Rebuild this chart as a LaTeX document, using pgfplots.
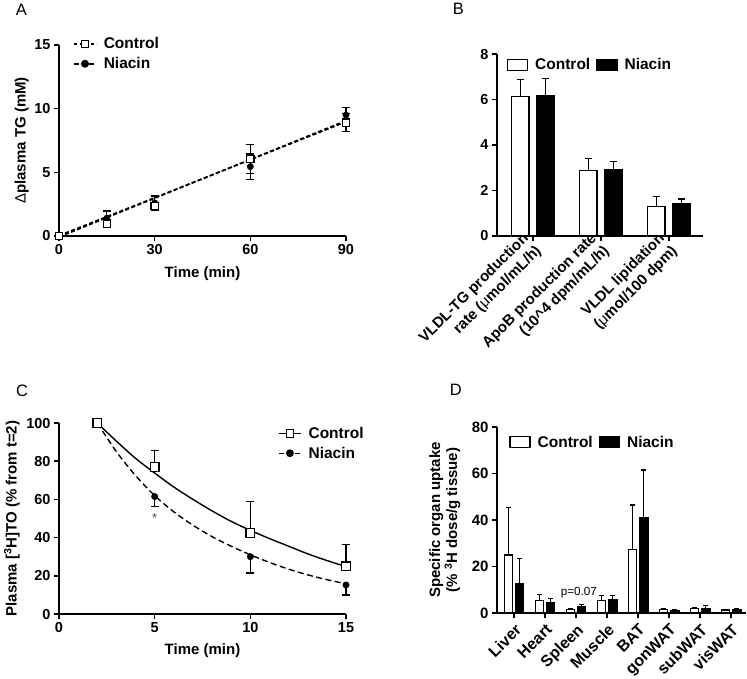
\documentclass[border=0pt]{standalone}
\usepackage{fontspec}
\setmainfont{Liberation Sans}
\usepackage{pgfplots}
\usepackage{pgfplotstable}
\pgfplotsset{compat=1.18}

\newcommand{\tickfont}{\fontsize{14.5}{16}\selectfont\bfseries}
\newcommand{\labfont}{\fontsize{15}{17}\selectfont\bfseries}
\newcommand{\legfont}{\fontsize{15.5}{18}\selectfont\bfseries}

\pgfplotsset{
  gp/.style={
    scale only axis, clip=false,
    axis lines=left,
    axis line style={-, line width=1.7pt},
    tick align=outside, major tick length=5pt,
    tick style={line width=1.5pt, black},
    tick label style={font=\tickfont},
    /pgf/number format/assume math mode=true,
    label style={font=\labfont},
    legend style={draw=none, fill=none, font=\legfont, inner sep=0pt,
      /tikz/every odd column/.append style={column sep=5pt}},
    legend cell align=left,
  },
  linelegend/.style={legend image code/.code={%
    \draw[mark repeat=2, mark phase=2, ##1] plot coordinates {(0pt,0pt) (11pt,0pt) (22pt,0pt)};}},
  wbox/.style={legend image code/.code={%
    \draw[fill=white, draw=black, line width=1.3pt] (0pt,-5.5pt) rectangle (20pt,5.5pt);}},
  bbox/.style={legend image code/.code={%
    \draw[fill=black, draw=black, line width=1.3pt] (0pt,-5.5pt) rectangle (20pt,5.5pt);}},
  errs/.style={error bars/.cd, y explicit, y dir=#1,
    error bar style={line width=1.3pt, solid, draw=black},
    error mark options={rotate=90, line width=1.3pt, mark size=4pt, solid, draw=black}},
  cap/.style={/pgfplots/error bars/error mark options={rotate=90, line width=1.3pt,
    mark size=#1, solid, draw=black}},
  ebar/.style={forget plot, draw=none, mark=none, errs=plus, /pgfplots/cap=#1},
}

% panel A: change in plasma TG
\pgfplotstableread{
t  c    ce   n    ne
0  0    0    0    0
15 0.95 0.3  1.4  0.56
30 2.35 0.2  2.6  0.55
60 6.05 1.15 5.45 1.0
90 8.9  0.7  9.5  0.6
}\tabA

% panel B: production rates
\pgfplotstableread{
x c    ce   n    ne
0 6.14 0.73 6.18 0.75
1 2.88 0.53 2.91 0.35
2 1.29 0.44 1.40 0.23
}\tabB

% panel C: clearance points
\pgfplotstableread{
t  c    ce   n    ne
2  100  0    100  0
5  77   8.5  61.5 5.2
10 42.5 16.5 30   8.5
15 25   11.5 15.2 5.2
}\tabC

% panel D: organ uptake
\pgfplotstableread{
x c    ce   n    ne
0 25.0 20.5 12.6 10.7
1 5.3  2.6  4.3  2.0
2 1.5  0.5  2.9  0.7
3 5.5  1.9  5.9  1.5
4 27.2 19.3 41.2 20.3
5 1.6  0.3  1.2  0.35
6 1.8  0.4  1.8  1.3
7 1.3  0.3  1.5  0.3
}\tabD

\begin{document}
\begin{tikzpicture}
\useasboundingbox (0pt,0pt) rectangle (747pt,-678pt);

\node[font=\fontsize{16.5}{17}\selectfont] at (21.5pt,-9.5pt) {A};
\node[font=\fontsize{16.5}{17}\selectfont] at (458.3pt,-8.5pt) {B};
\node[font=\fontsize{16.5}{17}\selectfont] at (22pt,-390.8pt) {C};
\node[font=\fontsize{16.5}{17}\selectfont] at (455.8pt,-390pt) {D};

% ---------------- A
\begin{axis}[gp, at={(59pt,-236pt)}, anchor=south west, width=287pt, height=191pt,
  xmin=0, xmax=90, ymin=0, ymax=15,
  xtick={0,30,60,90}, ytick={0,5,10,15},
  xlabel={Time (min)}, ylabel={{\mdseries Δ}plasma TG (mM)},
  xlabel style={at={(axis description cs:0.5,-0.195)}, anchor=center},
  ylabel style={at={(axis description cs:-0.13,0.5)}, anchor=center},
  legend style={at={(axis description cs:0.049,1.05)}, anchor=north west, row sep=3pt},
]
\addlegendimage{linelegend, line width=1.5pt, dash pattern=on 3pt off 2.5pt,
  mark=square*, mark options={solid, fill=white, line width=1.2pt}, mark size=3.3pt}
\addlegendentry{Control}
\addlegendimage{linelegend, line width=1.5pt, dash pattern=on 5pt off 2.5pt,
  mark=*, mark options={solid}, mark size=3.2pt}
\addlegendentry{Niacin}
% regression lines
\addplot[forget plot, line width=1.6pt, dash pattern=on 4pt off 2.5pt] coordinates {(0,0.03) (90,8.97)};
\addplot[forget plot, line width=1.6pt, dash pattern=on 4pt off 2.5pt] coordinates {(0,-0.08) (90,9.06)};
\addplot[forget plot, only marks, mark=*, mark size=3.2pt, errs=both]
  table[x=t, y=n, y error=ne] {\tabA};
\addplot[forget plot, only marks, mark=square*, mark size=3.7pt, mark options={fill=white, line width=1.2pt}, errs=both]
  table[x=t, y=c, y error=ce] {\tabA};
\end{axis}

% ---------------- B
\begin{axis}[gp, at={(497pt,-236pt)}, anchor=south west, width=206pt, height=182pt,
  xmin=-0.53, xmax=2.5, ymin=0, ymax=8,
  xtick={0,1,2}, ytick={0,2,4,6,8},
  xticklabels={{VLDL-TG production\hspace{16pt}\\rate ({\mdseries μ}mol/mL/h)},
    {ApoB production rate\hspace{14pt}\\(10\textasciicircum 4 dpm/mL/h)},
    {VLDL lipidation\hspace{14pt}\\({\mdseries μ}mol/100 dpm)}},
  xticklabel style={rotate=45, anchor=east, align=right,
    font=\fontsize{15}{18}\selectfont\bfseries, xshift=2pt, yshift=-1pt},
  legend columns=2,
  legend style={at={(axis description cs:0.047,0.94)}, anchor=west,
    /tikz/every even column/.append style={column sep=4pt}},
]
\addlegendimage{wbox}\addlegendentry{Control}
\addlegendimage{bbox}\addlegendentry{Niacin}
\addplot[forget plot, ybar, bar width=0.26, bar shift=0, fill=white, draw=black, line width=1.4pt]
  table[x expr=\thisrow{x}-0.187, y=c] {\tabB};
\addplot[forget plot, ybar, bar width=0.26, bar shift=0, fill=black, draw=black, line width=1.4pt]
  table[x expr=\thisrow{x}+0.187, y=n] {\tabB};
\addplot[ebar=3.5pt] table[x expr=\thisrow{x}-0.187, y=c, y error=ce] {\tabB};
\addplot[ebar=3.5pt] table[x expr=\thisrow{x}+0.187, y=n, y error=ne] {\tabB};
\end{axis}

% ---------------- C
\begin{axis}[gp, at={(59pt,-614pt)}, anchor=south west, width=287pt, height=191pt,
  xmin=0, xmax=15, ymin=0, ymax=100,
  xtick={0,5,10,15}, ytick={0,20,...,100},
  xlabel={Time (min)}, ylabel={Plasma [\textsuperscript{3}H]TO (\% from t=2)},
  xlabel style={at={(axis description cs:0.5,-0.192)}, anchor=center},
  ylabel style={at={(axis description cs:-0.164,0.5)}, anchor=center},
  legend style={at={(axis description cs:0.763,0.99)}, anchor=north west, row sep=3pt},
]
\addlegendimage{linelegend, line width=1.4pt, mark=square*, mark options={fill=white, line width=1.2pt}, mark size=3.7pt}
\addlegendentry{Control}
\addlegendimage{linelegend, line width=1.4pt, dash pattern=on 5pt off 3pt,
  mark=*, mark options={solid}, mark size=3.2pt}
\addlegendentry{Niacin}
% fitted decay curves
\addplot[forget plot, smooth, line width=1.4pt] coordinates {
  (2,100) (3,90.5) (4,81.5) (5,73.8) (6,66.5) (7,60) (8,54) (9,48.5)
  (10,43.8) (11,39.5) (12,35.5) (13,31.5) (14,28) (15,24.8)};
\addplot[forget plot, smooth, line width=1.4pt, dash pattern=on 6pt off 3.5pt] coordinates {
  (2,100) (3,85) (4,72.5) (5,62) (6,53.5) (7,46.5) (8,40.5) (9,35.5)
  (10,31) (11,27) (12,23.5) (13,20.5) (14,18) (15,15.8)};
\addplot[forget plot, only marks, mark=*, mark size=3.2pt, errs=minus]
  table[x=t, y=n, y error=ne] {\tabC};
\addplot[forget plot, only marks, mark=square*, mark size=4.3pt, mark options={fill=white, line width=1.2pt}, errs=plus]
  table[x=t, y=c, y error=ce] {\tabC};
\node[font=\fontsize{13}{13}\selectfont, text=black!70] at (axis cs:5,50.5) {*};
\end{axis}

% ---------------- D
\begin{axis}[gp, at={(497pt,-613pt)}, anchor=south west, width=249pt, height=186pt,
  xmin=-0.55, xmax=7.48, ymin=0, ymax=80,
  xtick={0,...,7}, ytick={0,20,...,80},
  xticklabels={Liver,Heart,Spleen,Muscle,BAT,gonWAT,subWAT,visWAT},
  xticklabel style={rotate=45, anchor=north east, font=\fontsize{16}{18}\selectfont\bfseries},
  yticklabel style={font=\fontsize{15}{17}\selectfont\bfseries},
  ylabel={Specific organ uptake\\(\% \textsuperscript{3}H dose/g tissue)},
  ylabel style={at={(axis description cs:-0.21,0.5)}, anchor=center, align=center},
  legend columns=2,
  legend style={at={(axis description cs:0.049,0.918)}, anchor=west,
    /tikz/every even column/.append style={column sep=4pt}},
]
\addlegendimage{wbox}\addlegendentry{Control}
\addlegendimage{bbox}\addlegendentry{Niacin}
\addplot[forget plot, ybar, bar width=0.27, bar shift=0, fill=white, draw=black, line width=1.3pt]
  table[x expr=\thisrow{x}-0.18, y=c] {\tabD};
\addplot[forget plot, ybar, bar width=0.27, bar shift=0, fill=black, draw=black, line width=1.3pt]
  table[x expr=\thisrow{x}+0.18, y=n] {\tabD};
\addplot[ebar=2.6pt] table[x expr=\thisrow{x}-0.18, y=c, y error=ce] {\tabD};
\addplot[ebar=2.6pt] table[x expr=\thisrow{x}+0.18, y=n, y error=ne] {\tabD};
\node[font=\fontsize{11.7}{12}\selectfont] at (axis cs:2.09,8.6) {p=0.07};
\end{axis}
\end{tikzpicture}
\end{document}
